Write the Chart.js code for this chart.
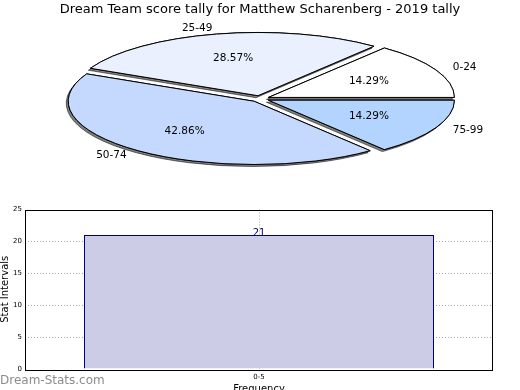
<!DOCTYPE html>
<html lang="en">
<head>
  <meta charset="UTF-8">
  <title>Dream Team score tally for Matthew Scharenberg - 2019 tally</title>
  <script src="https://cdn.jsdelivr.net/npm/chart.js"></script>
  <style>
    html, body {
      margin: 0;
      padding: 0;
      overflow: hidden;
      background: #fff;
    }
    body {
      width: 520px;
      height: 390px;
      position: relative;
      font-family: "DejaVu Sans", sans-serif;
    }
    #barChart {
      position: absolute;
      left: 0;
      top: 190px;
    }
    #pieChart {
      position: absolute;
      left: 0;
      top: 0;
    }
    #mark {
      position: absolute;
      left: 0;
      top: 374px;
      font-size: 12px;
      line-height: 12px;
      color: #8c8c8c;
    }
  </style>
</head>
<body>
  <canvas id="barChart" width="520" height="205"></canvas>
  <canvas id="pieChart" width="520" height="200"></canvas>
  <div id="mark">Dream-Stats.com</div>

  <script>
    // pie data
    const pieLabels = ['0-24', '25-49', '50-74', '75-99'];
    const pieCounts = [1, 2, 3, 1];
    const pieColors = ['#ffffff', '#eaf0fe', '#c5d8fe', '#b3d4fe'];

    // bar data
    const barLabels = ['0-5'];
    const barValues = [21];
    const yMin = 0;
    const yMax = 25;
    const yStep = 5;

    const FONT = 'DejaVu Sans';
    const squash = 0.34;   // vertical squeeze of the pie
    const explode = 0.05;  // wedge offset, fraction of radius

    // draws the pie squeezed into an ellipse, with shadow and exploded wedges
    const ellipsePie = {
      id: 'ellipsePie',
      beforeDatasetDraw(chart, args) {
        const ctx = chart.ctx;
        const arcs = args.meta.data;
        const drawAll = (shadow) => {
          arcs.forEach(arc => {
            const mid = (arc.startAngle + arc.endAngle) / 2;
            const d = explode * arc.outerRadius;
            ctx.save();
            if (shadow) {
              ctx.shadowColor = 'rgba(0,0,0,0.5)';
              ctx.shadowOffsetX = -2;
              ctx.shadowOffsetY = 2;
              ctx.shadowBlur = 0;
            }
            ctx.translate(arc.x, arc.y);
            ctx.scale(1, -squash);
            ctx.translate(-arc.x, -arc.y);
            ctx.translate(Math.cos(mid) * d, Math.sin(mid) * d);
            // keep the edge line 1px wide despite the squeeze
            const stroke = ctx.stroke;
            ctx.stroke = function () {
              this.save();
              this.setTransform(1, 0, 0, 1, 0, 0);
              stroke.call(this);
              this.restore();
            };
            arc.draw(ctx);
            delete ctx.stroke;
            ctx.restore();
          });
        };
        drawAll(true);
        drawAll(false);
        return false;
      },
      afterDatasetsDraw(chart) {
        const ctx = chart.ctx;
        const meta = chart.getDatasetMeta(0);
        const total = pieCounts.reduce((a, b) => a + b, 0);
        ctx.save();
        ctx.font = '10.5px "' + FONT + '"';
        ctx.fillStyle = '#000';
        ctx.textBaseline = 'middle';
        meta.data.forEach((arc, i) => {
          const mid = (arc.startAngle + arc.endAngle) / 2;
          const R = arc.outerRadius;
          const c = Math.cos(mid), s = Math.sin(mid);
          const k1 = 1.1 + explode, k2 = 0.6 + explode;
          ctx.textAlign = c > 0 ? 'left' : 'right';
          ctx.fillText(pieLabels[i], arc.x + k1 * R * c, arc.y - k1 * R * s * squash);
          ctx.textAlign = 'center';
          ctx.fillText((pieCounts[i] / total * 100).toFixed(2) + '%',
            arc.x + k2 * R * c, arc.y - k2 * R * s * squash);
        });
        ctx.restore();
      }
    };

    new Chart(document.getElementById('pieChart'), {
      type: 'pie',
      data: {
        labels: pieLabels,
        datasets: [{
          data: pieCounts,
          backgroundColor: pieColors,
          borderColor: '#000',
          borderWidth: 1,
          borderJoinStyle: 'miter',
          radius: 186,
          rotation: 90,
          clip: false
        }]
      },
      options: {
        responsive: false,
        animation: false,
        layout: { padding: { bottom: 20 } },
        plugins: {
          legend: { display: false },
          tooltip: { enabled: false },
          title: {
            display: true,
            text: 'Dream Team score tally for Matthew Scharenberg - 2019 tally',
            color: '#000',
            font: { family: FONT, size: 13, weight: 'normal' },
            padding: { top: 2, bottom: 0 }
          }
        }
      },
      plugins: [ellipsePie]
    });

    // box around the plot area and the value over the bar
    const barExtras = {
      id: 'barExtras',
      afterDatasetsDraw(chart) {
        const ctx = chart.ctx;
        const meta = chart.getDatasetMeta(0);
        ctx.save();
        ctx.font = '10px "' + FONT + '"';
        ctx.fillStyle = '#000080';
        ctx.textAlign = 'center';
        ctx.textBaseline = 'alphabetic';
        meta.data.forEach((bar, i) => {
          ctx.fillText(String(barValues[i]), bar.x, bar.y + 1);
        });
        ctx.restore();
      },
      afterDraw(chart) {
        const a = chart.chartArea;
        const ctx = chart.ctx;
        ctx.save();
        ctx.strokeStyle = '#000';
        ctx.lineWidth = 1;
        ctx.strokeRect(Math.round(a.left) + 0.5, Math.round(a.top) + 0.5,
          Math.round(a.right - a.left) - 1, Math.round(a.bottom - a.top));
        ctx.restore();
      }
    };

    const gridColor = (c) => (c.tick && (c.tick.value === yMin || c.tick.value === yMax))
      ? 'rgba(0,0,0,0)' : '#aaaaaa';

    new Chart(document.getElementById('barChart'), {
      type: 'bar',
      data: {
        labels: barLabels,
        datasets: [{
          data: barValues,
          backgroundColor: '#cccce6',
          borderColor: '#000080',
          borderWidth: 1,
          barPercentage: 350 / 468,
          categoryPercentage: 1
        }]
      },
      options: {
        responsive: false,
        animation: false,
        layout: { padding: { top: 19.5, right: 27, left: 0, bottom: 0 } },
        plugins: {
          legend: { display: false },
          tooltip: { enabled: false }
        },
        scales: {
          x: {
            grid: { offset: false, color: '#aaaaaa', drawTicks: false },
            border: { display: false, dash: [1, 2] },
            ticks: { color: '#000', padding: 4, font: { family: FONT, size: 7 } },
            title: {
              display: true,
              text: 'Frequency',
              color: '#000',
              font: { family: FONT, size: 10 },
              padding: 0
            },
            afterFit(s) { s.height = 26; }
          },
          y: {
            min: yMin,
            max: yMax,
            grid: { color: gridColor, drawTicks: false },
            border: { display: false, dash: [1, 2] },
            ticks: { stepSize: yStep, color: '#000', padding: 3, font: { family: FONT, size: 7 } },
            title: {
              display: true,
              text: 'Stat Intervals',
              color: '#000',
              font: { family: FONT, size: 10, lineHeight: 1 },
              padding: 0
            },
            afterFit(s) { s.width = 25; }
          }
        }
      },
      plugins: [barExtras]
    });
  </script>
</body>
</html>
